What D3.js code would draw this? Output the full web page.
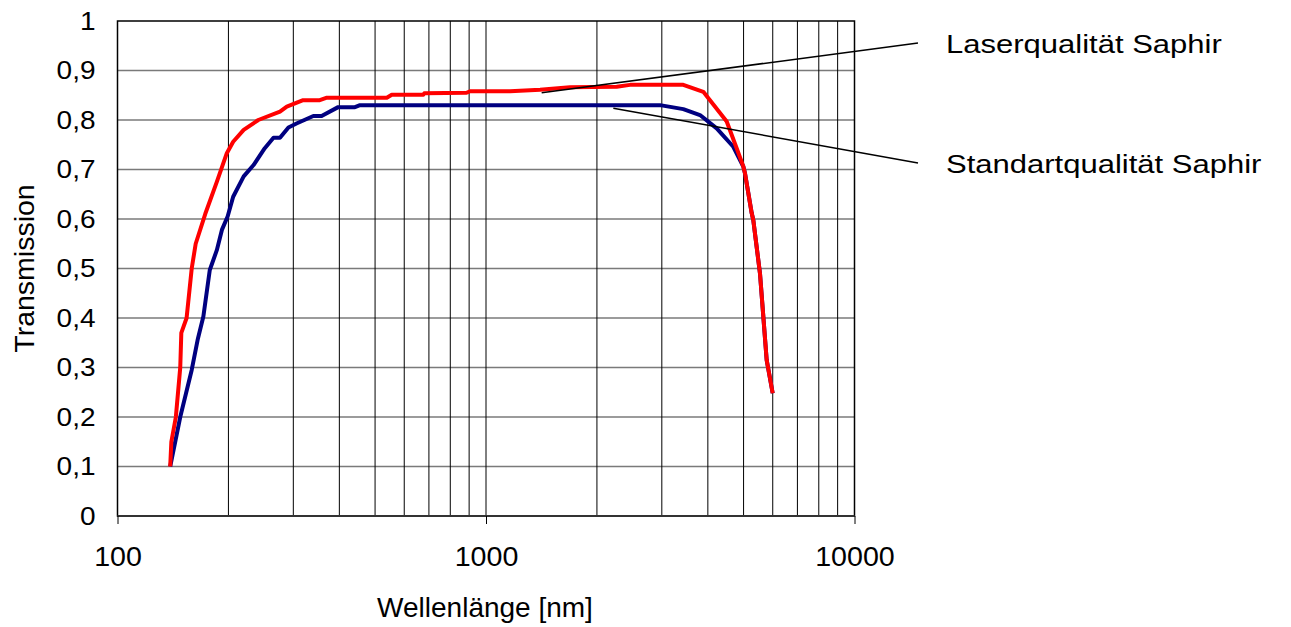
<!DOCTYPE html>
<html lang="de">
<head>
<meta charset="utf-8">
<title>Transmission Saphir</title>
<script src="https://cdn.jsdelivr.net/npm/d3@7"></script>
<style>
  body { margin: 0; background: #fff; }
  svg text { font-family: "Liberation Sans", Arial, Helvetica, sans-serif; fill: #000; }
</style>
</head>
<body>
<svg id="chart" width="1291" height="627"></svg>
<script>
// Laserqualität Saphir: [Wellenlänge nm, Transmission]
const laserData = [
  [139, 0.10], [140, 0.15], [144, 0.20], [148, 0.30], [149, 0.37], [154, 0.40],
  [159, 0.50], [163, 0.55], [173, 0.61], [186, 0.675], [198, 0.733], [206, 0.756],
  [220, 0.78], [241, 0.80], [276, 0.817], [288, 0.827], [319, 0.84], [354, 0.84],
  [370, 0.845], [538, 0.845], [555, 0.851], [676, 0.851], [680, 0.854], [886, 0.855],
  [905, 0.858], [1162, 0.858], [1402, 0.861], [1690, 0.866], [2263, 0.867], [2459, 0.871],
  [3431, 0.871], [3888, 0.857], [4054, 0.84], [4500, 0.797], [4789, 0.743], [4992, 0.706],
  [5046, 0.692], [5260, 0.612], [5313, 0.598], [5540, 0.49], [5777, 0.315], [5998, 0.248]
];

// Standartqualität Saphir
const standardData = [
  [139, 0.10], [148, 0.20], [159, 0.295], [165, 0.356], [171, 0.403], [178, 0.497],
  [186, 0.537], [192, 0.578], [199, 0.605], [206, 0.645], [220, 0.686], [234, 0.709],
  [251, 0.743], [265, 0.764], [276, 0.764], [291, 0.785], [306, 0.793], [340, 0.808],
  [358, 0.808], [397, 0.826], [441, 0.826], [455, 0.830], [2967, 0.830], [3431, 0.822],
  [3808, 0.810], [4227, 0.783], [4689, 0.746], [4890, 0.719], [4992, 0.706], [5046, 0.692],
  [5260, 0.612], [5313, 0.598], [5540, 0.49], [5777, 0.315], [5998, 0.248]
];

const xTicks = [100, 1000, 10000];
const xGrid = [200, 300, 400, 500, 600, 700, 800, 900, 2000, 3000, 4000, 5000, 6000, 7000, 8000, 9000];
const yTicks = [0, 0.1, 0.2, 0.3, 0.4, 0.5, 0.6, 0.7, 0.8, 0.9, 1];
const yTickLabels = ["0", "0,1", "0,2", "0,3", "0,4", "0,5", "0,6", "0,7", "0,8", "0,9", "1"];

// Beschriftungen: Name, Punkt auf der Kurve [nm, T]
const labels = [
  { name: "Laserqualität Saphir", at: [1416, 0.855], ty: 43 },
  { name: "Standartqualität Saphir", at: [2216, 0.8236], ty: 163 }
];

const pL = 117.5, pR = 854.5, pT = 21, pB = 516;
const svg = d3.select("#chart");

const x = d3.scaleLog().domain([100, 10000]).range([pL, pR]);
const y = d3.scaleLinear().domain([0, 1]).range([pB, pT]);

// Schrift etwas breiter ziehen (Original ist breiter als Arial)
function widen(sel, k) {
  sel.each(function() {
    const w = this.getComputedTextLength();
    d3.select(this).attr("textLength", w * k).attr("lengthAdjust", "spacingAndGlyphs");
  });
}

// Gitter
svg.append("g").selectAll("line").data(yTicks.slice(1, -1)).join("line")
  .attr("x1", pL).attr("x2", pR)
  .attr("y1", d => y(d)).attr("y2", d => y(d))
  .attr("stroke", "#7a7a7a").attr("stroke-width", 1.5);

svg.append("g").selectAll("line").data(xGrid.concat([1000])).join("line")
  .attr("x1", d => x(d)).attr("x2", d => x(d))
  .attr("y1", pT).attr("y2", pB)
  .attr("stroke", "#000").attr("stroke-width", 1);

// Rahmen
svg.append("rect")
  .attr("x", pL).attr("y", pT)
  .attr("width", pR - pL).attr("height", pB - pT)
  .attr("fill", "none").attr("stroke", "#000").attr("stroke-width", 1.5);
svg.append("line")
  .attr("x1", pL).attr("x2", pR).attr("y1", pB).attr("y2", pB)
  .attr("stroke", "#333").attr("stroke-width", 2);

// Achsen
const xAxis = svg.append("g")
  .attr("transform", `translate(0,${pB})`)
  .call(d3.axisBottom(x).tickValues(xTicks).tickFormat(d3.format("d")).tickSize(8).tickPadding(23));
xAxis.select(".domain").remove();
xAxis.selectAll("line").attr("stroke", "#000").attr("stroke-width", 1);
xAxis.selectAll("text").attr("font-size", 27).attr("font-family", null);
widen(xAxis.selectAll("text"), 1.06);

const yAxis = svg.append("g")
  .attr("transform", `translate(${pL},0)`)
  .call(d3.axisLeft(y).tickValues(yTicks).tickFormat((d, i) => yTickLabels[i]).tickSize(0).tickPadding(22));
yAxis.select(".domain").remove();
yAxis.selectAll("text").attr("font-size", 25).attr("font-family", null);
widen(yAxis.selectAll("text"), 1.12);

svg.append("text")
  .attr("x", (pL + pR) / 2 - 1).attr("y", 617)
  .attr("text-anchor", "middle").attr("font-size", 28)
  .text("Wellenlänge [nm]");

svg.append("text")
  .attr("transform", `translate(34,${(pT + pB) / 2}) rotate(-90)`)
  .attr("text-anchor", "middle").attr("font-size", 28.5)
  .text("Transmission");

// Kurven
const line = d3.line().x(d => x(d[0])).y(d => y(d[1]));

svg.append("path").datum(standardData)
  .attr("d", line).attr("fill", "none")
  .attr("stroke", "#000080").attr("stroke-width", 4).attr("stroke-linejoin", "round");

svg.append("path").datum(laserData)
  .attr("d", line).attr("fill", "none")
  .attr("stroke", "#ff0000").attr("stroke-width", 4).attr("stroke-linejoin", "round");

// Beschriftungslinien
labels.forEach(l => {
  svg.append("line")
    .attr("x1", x(l.at[0])).attr("y1", y(l.at[1]))
    .attr("x2", 918).attr("y2", l.ty)
    .attr("stroke", "#000").attr("stroke-width", 1.5);
  const t = svg.append("text")
    .attr("x", 946).attr("y", l.ty + 9.5)
    .attr("font-size", 26.5)
    .text(l.name);
  widen(t, 1.17);
});
</script>
</body>
</html>
